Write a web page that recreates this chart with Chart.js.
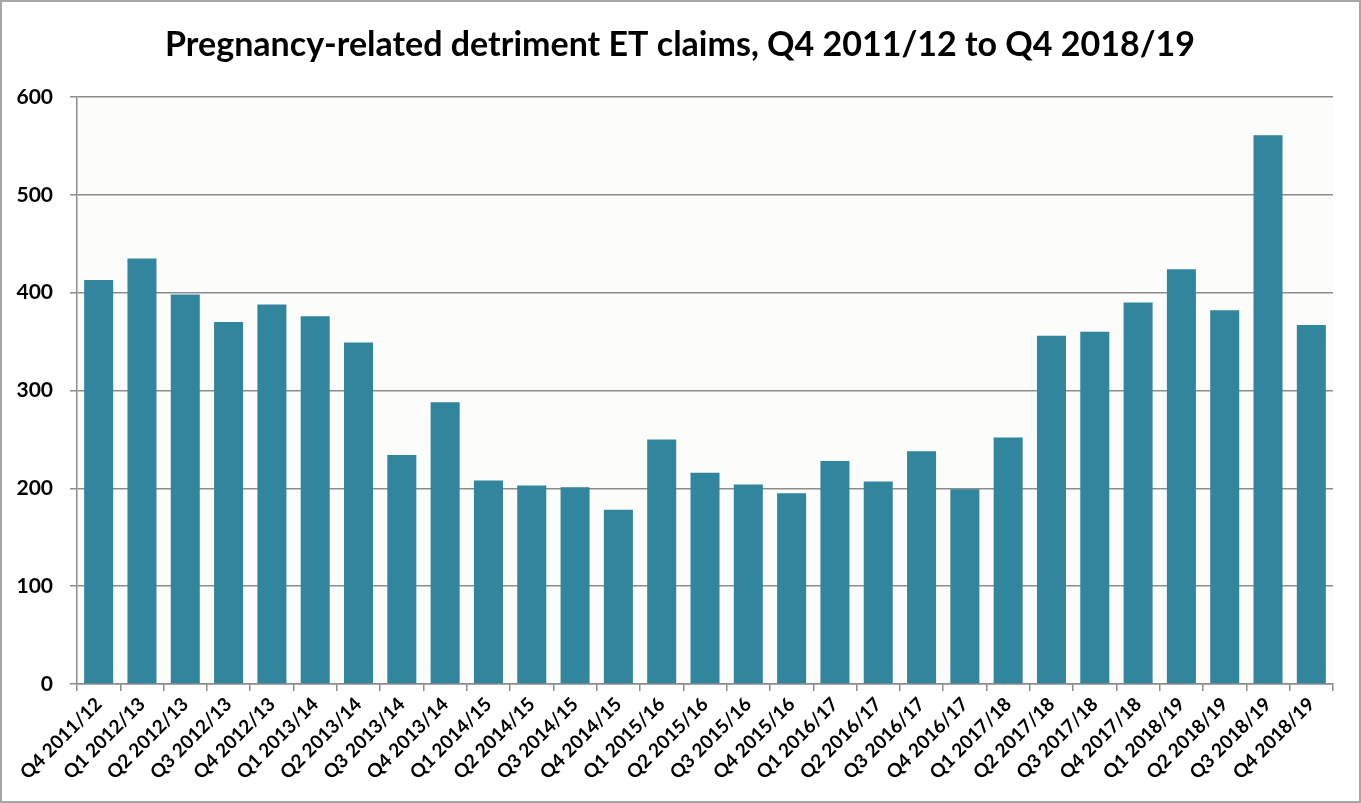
<!DOCTYPE html>
<html>
<head>
<meta charset="utf-8">
<title>Pregnancy-related detriment ET claims</title>
<script src="https://cdn.jsdelivr.net/npm/chart.js@4"></script>
<style>
  html, body { margin: 0; padding: 0; background: #fff; }
  #wrap { width: 1361px; height: 803px; position: relative; }
</style>
</head>
<body>
<div id="wrap"><canvas id="claimsChart" width="1361" height="803"></canvas></div>
<script>
const chartTitle = 'Pregnancy-related detriment ET claims, Q4 2011/12 to Q4 2018/19';

const quarters = [
    'Q4 2011/12', 'Q1 2012/13', 'Q2 2012/13', 'Q3 2012/13', 'Q4 2012/13',
    'Q1 2013/14', 'Q2 2013/14', 'Q3 2013/14', 'Q4 2013/14',
    'Q1 2014/15', 'Q2 2014/15', 'Q3 2014/15', 'Q4 2014/15',
    'Q1 2015/16', 'Q2 2015/16', 'Q3 2015/16', 'Q4 2015/16',
    'Q1 2016/17', 'Q2 2016/17', 'Q3 2016/17', 'Q4 2016/17',
    'Q1 2017/18', 'Q2 2017/18', 'Q3 2017/18', 'Q4 2017/18',
    'Q1 2018/19', 'Q2 2018/19', 'Q3 2018/19', 'Q4 2018/19'
];

const claims = [
    413, 435, 398, 370, 388,
    376, 349, 234, 288,
    208, 203, 201, 178,
    250, 216, 204, 195,
    228, 207, 238, 199,
    252, 356, 360, 390,
    424, 382, 561, 367
];

const yTicks = [0, 100, 200, 300, 400, 500, 600];

const FONT = 'Lato, "Open Sans", sans-serif';

// Plot background, frame and title drawn by hand
const chromePlugin = {
    id: 'chrome',
    beforeDraw(chart) {
        const { ctx, chartArea: a } = chart;
        ctx.save();
        ctx.fillStyle = '#fcfcfa';
        ctx.fillRect(a.left, a.top, a.right - a.left, a.bottom - a.top);
        ctx.restore();
    },
    afterDraw(chart) {
        const { ctx, width, height } = chart;
        ctx.save();
        ctx.strokeStyle = '#a6a6a6';
        ctx.lineWidth = 2;
        ctx.strokeRect(1, 1, width - 2, height - 2);
        ctx.fillStyle = '#000';
        ctx.font = 'bold 34px ' + FONT;
        ctx.textAlign = 'center';
        ctx.textBaseline = 'middle';
        ctx.fillText(chartTitle, 680, 45);
        ctx.restore();
    }
};

new Chart(document.getElementById('claimsChart'), {
    type: 'bar',
    data: {
        labels: quarters,
        datasets: [{
            label: 'Claims',
            data: claims,
            backgroundColor: '#31859c',
            borderWidth: 0,
            barPercentage: 0.67,
            categoryPercentage: 1
        }]
    },
    options: {
        responsive: false,
        animation: false,
        layout: { padding: { top: 97, right: 28, left: 0, bottom: 0 } },
        plugins: {
            legend: { display: false },
            title: { display: false },
            tooltip: { enabled: false }
        },
        scales: {
            x: {
                offset: true,
                grid: {
                    offset: true,
                    drawOnChartArea: false,
                    color: '#8c8c8c',
                    lineWidth: 1.5,
                    tickLength: 7
                },
                border: { color: '#8c8c8c', width: 1.5 },
                ticks: {
                    color: '#000',
                    font: { family: FONT, size: 19, weight: 'bold' },
                    minRotation: 45,
                    maxRotation: 45,
                    autoSkip: false,
                    padding: 2
                },
                afterFit(scale) { scale.height = 119; }
            },
            y: {
                min: 0,
                max: 600,
                afterBuildTicks(scale) {
                    scale.ticks = yTicks.map(v => ({ value: v }));
                },
                grid: {
                    color: '#8c8c8c',
                    lineWidth: 1.5,
                    tickLength: 7
                },
                border: { color: '#8c8c8c', width: 1.5 },
                ticks: {
                    color: '#000',
                    font: { family: FONT, size: 21, weight: 'bold' },
                    padding: 17
                },
                afterFit(scale) { scale.width = 77; }
            }
        }
    },
    plugins: [chromePlugin]
});
</script>
</body>
</html>
